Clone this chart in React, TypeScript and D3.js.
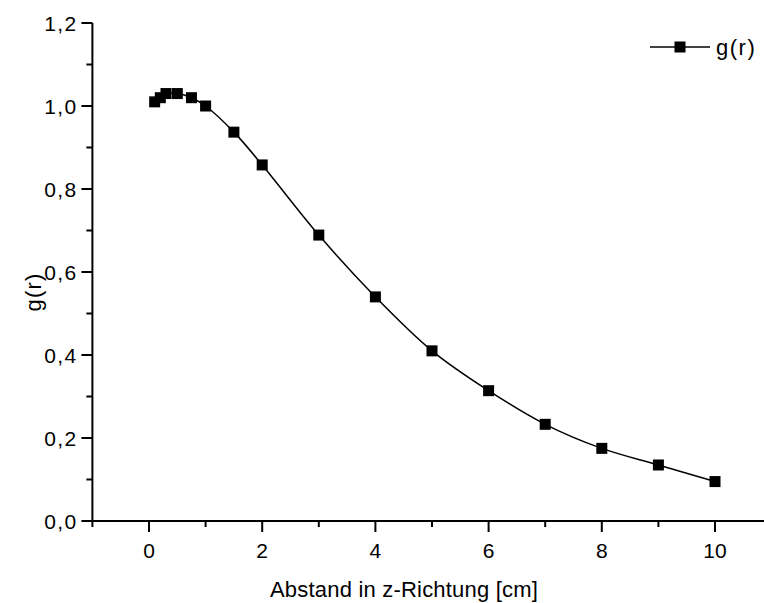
import React from "react";
import * as d3 from "d3";

const distances = [0.1, 0.2, 0.3, 0.5, 0.75, 1, 1.5, 2, 3, 4, 5, 6, 7, 8, 9, 10];
const gValues = [1.01, 1.02, 1.03, 1.03, 1.02, 1.0, 0.937, 0.858, 0.689, 0.54, 0.41, 0.314, 0.233, 0.175, 0.135, 0.095];
const xTicks = [0, 2, 4, 6, 8, 10];
const xMinorTicks = [-1, 1, 3, 5, 7, 9, 11];
const yTicks = [0, 0.2, 0.4, 0.6, 0.8, 1.0, 1.2];
const yMinorTicks = [0.1, 0.3, 0.5, 0.7, 0.9, 1.1];
const seriesName = "g(r)";
const xTitle = "Abstand in z-Richtung [cm]";
const yTitle = "g(r)";

const W = 764;
const H = 603;
const FONT = "Arial, 'Liberation Sans', sans-serif";

export default function App() {
  const x = d3.scaleLinear().domain([0, 10]).range([149, 715]);
  const y = d3.scaleLinear().domain([0, 1.2]).range([521, 23]);
  const fmt = (v: number) => v.toFixed(1).replace(".", ",");

  const pts: [number, number][] = distances.map((d, i) => [x(d), y(gValues[i])]);
  const line = d3.line().curve(d3.curveCatmullRom.alpha(0.5))(pts) || "";

  const axisLeft = x(-1);
  const axisRight = W;
  const axisBottom = y(0);
  const m = 11;

  return (
    <svg width={W} height={H} style={{ position: "absolute", left: 0, top: 0, background: "#fff" }}>
      <rect width={W} height={H} fill="#fff" />
      {/* axes */}
      <line x1={axisLeft} x2={axisLeft} y1={y(1.2)} y2={axisBottom} stroke="#000" strokeWidth={2} />
      <line x1={axisLeft - 1} x2={axisRight} y1={axisBottom} y2={axisBottom} stroke="#000" strokeWidth={2} />
      {yTicks.map((t) => (
        <g key={"y" + t}>
          <line x1={axisLeft - 11} x2={axisLeft} y1={y(t)} y2={y(t)} stroke="#000" strokeWidth={2} />
          <text x={axisLeft - 15} y={y(t)} dy="0.36em" textAnchor="end" fontFamily={FONT} fontSize={21} letterSpacing={1.3} fill="#000">
            {fmt(t)}
          </text>
        </g>
      ))}
      {yMinorTicks.map((t) => (
        <line key={"ym" + t} x1={axisLeft - 6} x2={axisLeft} y1={y(t)} y2={y(t)} stroke="#000" strokeWidth={2} />
      ))}
      {xTicks.map((t) => (
        <g key={"x" + t}>
          <line x1={x(t)} x2={x(t)} y1={axisBottom} y2={axisBottom + 11} stroke="#000" strokeWidth={2} />
          <text x={x(t)} y={axisBottom + 29} dy="0.36em" textAnchor="middle" fontFamily={FONT} fontSize={21} fill="#000">
            {t}
          </text>
        </g>
      ))}
      {xMinorTicks.map((t) => (
        <line key={"xm" + t} x1={x(t)} x2={x(t)} y1={axisBottom} y2={axisBottom + 6} stroke="#000" strokeWidth={2} />
      ))}
      {/* titles */}
      <text x={404} y={597} textAnchor="middle" fontFamily={FONT} fontSize={22} letterSpacing={0.2} fill="#000">
        {xTitle}
      </text>
      <text
        transform={`translate(41,292) rotate(-90)`}
        textAnchor="middle"
        fontFamily={FONT}
        fontSize={22}
        letterSpacing={1.2}
        fill="#000"
      >
        {yTitle}
      </text>
      {/* series */}
      <path d={line} fill="none" stroke="#000" strokeWidth={1.5} />
      {pts.map(([px, py], i) => (
        <rect key={i} x={px - m / 2} y={py - m / 2} width={m} height={m} fill="#000" />
      ))}
      {/* legend */}
      <line x1={650} x2={710} y1={47} y2={47} stroke="#000" strokeWidth={1.5} />
      <rect x={680 - m / 2} y={47 - m / 2} width={m} height={m} fill="#000" />
      <text x={716} y={47} dy="0.36em" fontFamily={FONT} fontSize={22} letterSpacing={1.5} fill="#000">
        {seriesName}
      </text>
    </svg>
  );
}
